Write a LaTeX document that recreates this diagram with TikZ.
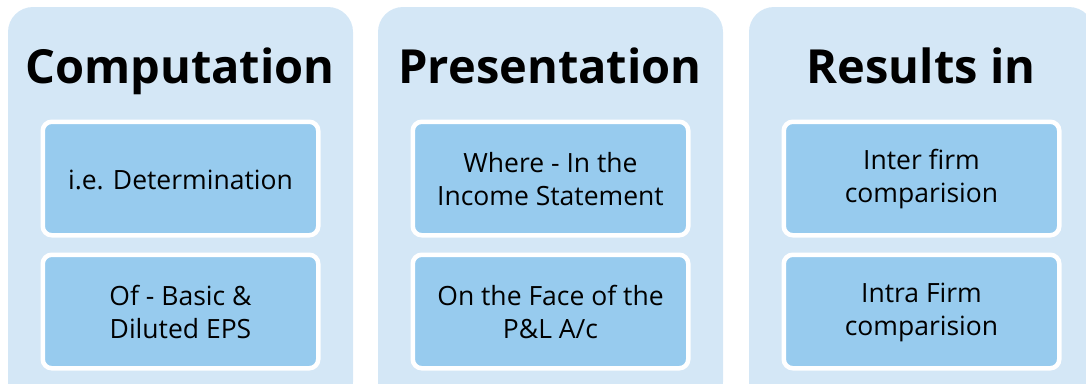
\documentclass[tikz,border=0pt]{standalone}
\usepackage{fontspec}
\setmainfont{Open Sans}
\definecolor{panelbg}{HTML}{D4E7F6}
\definecolor{boxbg}{HTML}{97CBEE}
\begin{document}
\begin{tikzpicture}[x=1pt,y=-1pt,
  panel/.style={fill=panelbg,draw=none,rounded corners=25pt},
  itembox/.style={fill=boxbg,draw=white,line width=4.5pt,rounded corners=9pt},
  titletext/.style={anchor=base,font=\fontsize{47}{56}\selectfont\bfseries,inner sep=0pt},
  itemtext/.style={align=center,font=\fontsize{26.5}{33}\selectfont,inner sep=0pt}]
\useasboundingbox (0,0) rectangle (1086,383);
\begin{scope}
\clip (0,0) rectangle (1086,383);
\foreach \i/\x in {1/8,2/378,3/749}{
  \path[panel] (\x,7) rectangle ++(345,400);
  \path[itembox] (\x+34.75,121.75) rectangle ++(275.5,113.5);
  \path[itembox] (\x+34.75,254.75) rectangle ++(275.5,113.5);
}
\end{scope}
\node[titletext] (t1) at (180,83) {Computation};
\node[titletext] (t2) at (550,83) {Presentation};
\node[titletext] (t3) at (921,83) {Results in};
\node[itemtext] (a1) at (180.5,180) {i.e. Determination};
\node[itemtext] (b1) at (180.5,312) {Of - Basic \&\\Diluted EPS};
\node[itemtext] (a2) at (550.5,179) {Where - In the\\Income Statement};
\node[itemtext] (b2) at (550.5,312) {On the Face of the\\P\&L A/c};
\node[itemtext] (a3) at (921.5,179) {Inter firm\\comparision};
\node[itemtext] (b3) at (921.5,312) {Intra Firm\\comparision};
\end{tikzpicture}
\end{document}
